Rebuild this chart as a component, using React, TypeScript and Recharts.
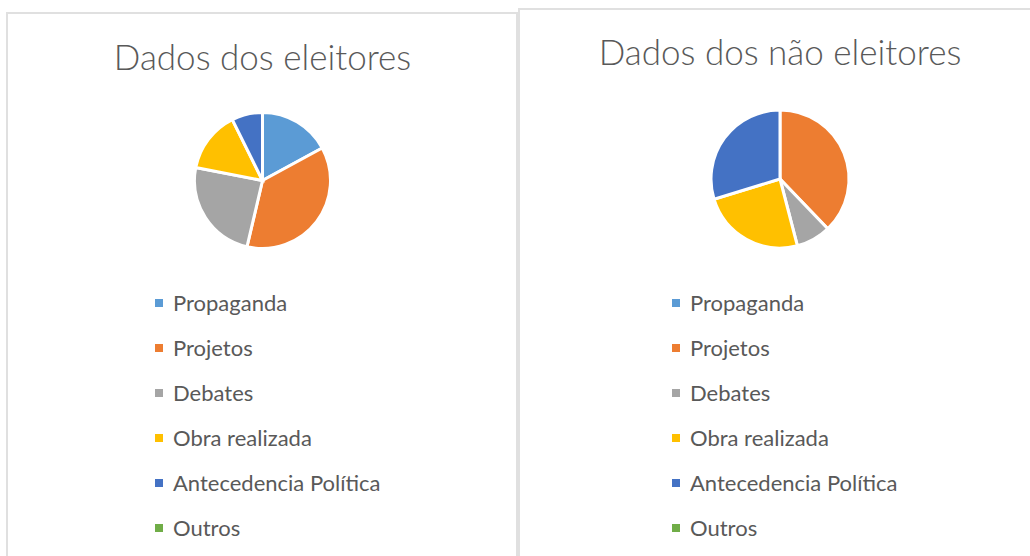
import { PieChart, Pie, Legend } from 'recharts';

const categories = ['Propaganda', 'Projetos', 'Debates', 'Obra realizada', 'Antecedencia Política', 'Outros'];
const colors = ['#5B9BD5', '#ED7D31', '#A5A5A5', '#FFC000', '#4472C4', '#70AD47'];
const eleitores = [7, 15, 10, 6, 3, 0];
const naoEleitores = [0, 14, 3, 9, 11, 0];

const FONT = 'Lato, "Open Sans", sans-serif';
const TEXT = '#595959';

function buildData(values: number[]) {
  return categories.map((name, i) => ({ name, value: values[i], fill: colors[i] }));
}

function renderLegend(props: any) {
  // keep the category order instead of the alphabetical default
  const items = [...(props.payload || [])].sort(
    (a: any, b: any) => categories.indexOf(a.value) - categories.indexOf(b.value)
  );
  return (
    <div style={{ fontFamily: FONT, fontSize: 22, color: TEXT }}>
      {items.map((entry: any) => (
        <div key={entry.value} style={{ display: 'flex', alignItems: 'center', height: 45, whiteSpace: 'nowrap' }}>
          <span style={{ display: 'inline-block', width: 8, height: 8, background: entry.color, marginRight: 10 }} />
          {entry.value}
        </div>
      ))}
    </div>
  );
}

function PiePanel({ title, values, left, top, width, cx, cy, r, titleTop, legendLeft }: any) {
  const data = buildData(values);
  return (
    <div style={{ position: 'absolute', left, top: 0, width, height: 556 }}>
      <div
        style={{
          position: 'absolute',
          left: 0,
          top,
          width: width - 2,
          height: 556,
          border: '2px solid #e0e0e0',
          borderBottom: 'none',
          boxSizing: 'border-box',
        }}
      />
      <div
        style={{
          position: 'absolute',
          left: 0,
          top: titleTop,
          width: cx * 2,
          textAlign: 'center',
          fontFamily: FONT,
          fontSize: 35,
          fontWeight: 300,
          lineHeight: '35px',
          color: TEXT,
          whiteSpace: 'nowrap',
        }}
      >
        {title}
      </div>
      <div style={{ position: 'absolute', left: 0, top: 0 }}>
        <PieChart width={width} height={556} margin={{ top: 0, right: 0, bottom: 0, left: 0 }}>
          <Pie
            data={data}
            dataKey="value"
            nameKey="name"
            cx={cx}
            cy={cy}
            outerRadius={r}
            startAngle={90}
            endAngle={-270}
            stroke="#ffffff"
            strokeWidth={3}
            isAnimationActive={false}
          />
          <Legend
            layout="vertical"
            align="center"
            verticalAlign="middle"
            content={renderLegend}
            wrapperStyle={{ left: legendLeft, top: 280, width: 280 }}
          />
        </PieChart>
      </div>
    </div>
  );
}

export default function App() {
  return (
    <div style={{ position: 'fixed', left: 0, top: 0, width: 1030, height: 556, background: '#ffffff', overflow: 'hidden' }}>
      <PiePanel
        title="Dados dos eleitores"
        values={eleitores}
        left={6}
        top={12}
        width={514}
        cx={256.5}
        cy={180.5}
        r={68}
        titleTop={39}
        legendLeft={149}
      />
      <PiePanel
        title="Dados dos não eleitores"
        values={naoEleitores}
        left={518}
        top={8}
        width={520}
        cx={262}
        cy={179}
        r={69}
        titleTop={34}
        legendLeft={154}
      />
    </div>
  );
}
